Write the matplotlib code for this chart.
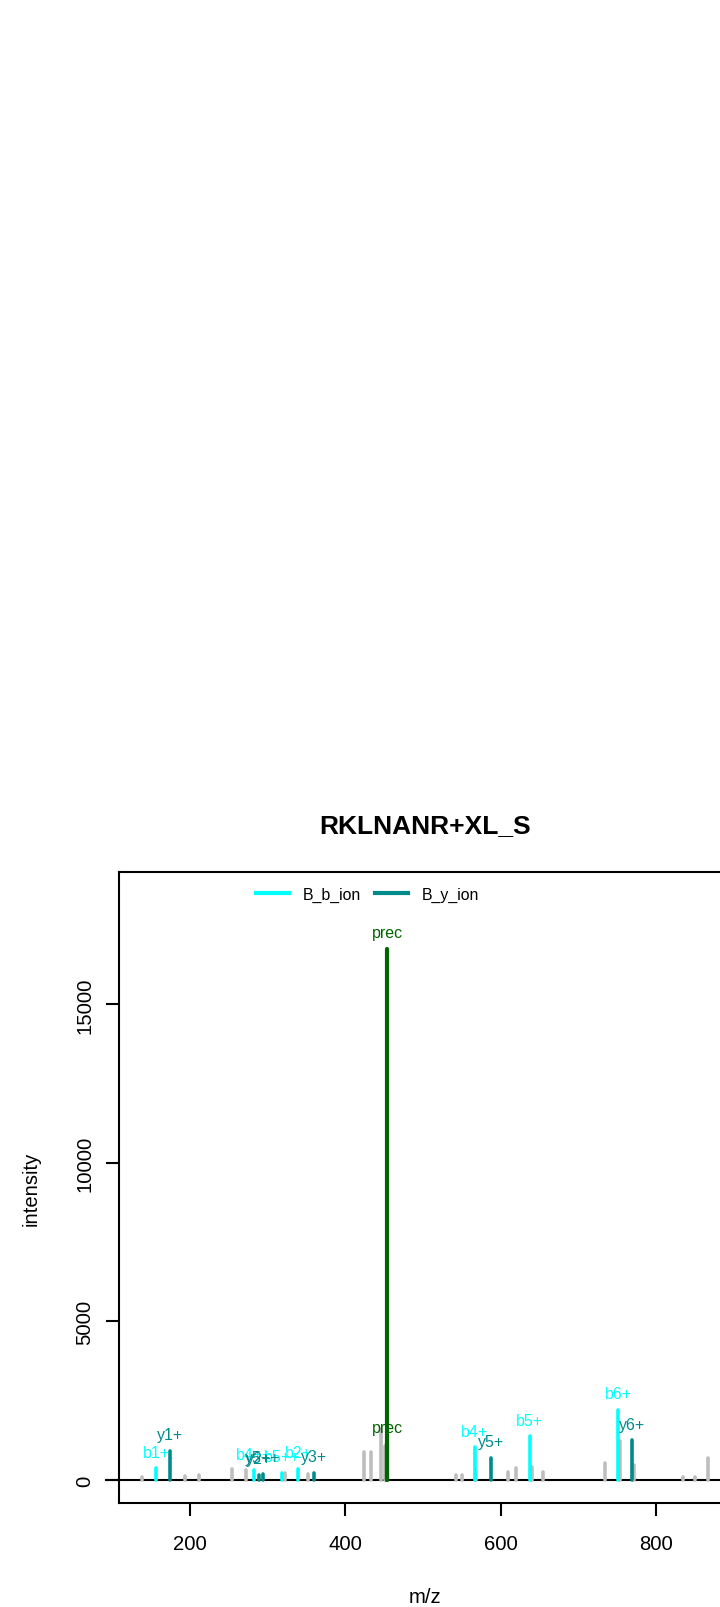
import matplotlib

matplotlib.use("Agg")
import matplotlib.pyplot as plt
from matplotlib.lines import Line2D

plt.rcParams["font.family"] = ["Liberation Sans", "DejaVu Sans"]

title = "RKLNANR+XL_S"

# unmatched peaks of the spectrum (grey)
grey_mz = [138.8, 194.7, 211.9, 254.8, 272.0, 322.7, 352.8, 423.7, 433.2,
           446.1, 451.6, 542.8, 549.6, 568.5, 609.3, 620.1, 639.5, 654.4,
           734.4, 753.5, 771.5, 834.5, 850.0, 866.4]
grey_int = [105, 116, 167, 336, 325, 211, 200, 871, 871,
            1606, 1081, 170, 170, 290, 243, 369, 400, 243,
            545, 1240, 470, 90, 100, 693]

# b ions
b_mz = [157.3, 283.2, 318.9, 339.5, 566.4, 637.3, 751.1]
b_int = [368, 305, 231, 346, 1030, 1376, 2214]
b_lab = ["b1+", "b4++", "b5++", "b2+", "b4+", "b5+", "b6+"]

# y ions
y_mz = [174.9, 288.8, 294.4, 359.7, 587.0, 769.2]
y_int = [923, 157, 189, 231, 693, 1250]
y_lab = ["y1+", "y2+", "y5++", "y3+", "y5+", "y6+"]

# precursor
p_mz = [453.8, 453.8]
p_int = [16756, 1150]
p_lab = ["prec", "prec"]

c_grey = "#bebebe"
c_b = "#00ffff"
c_y = "#008b8b"
c_p = "#006400"

fig = plt.figure(figsize=(7.2, 16.08), dpi=100)
ax = fig.add_axes([0.1657, 0.0645, 0.8492, 0.3924])

all_mz = grey_mz + b_mz + y_mz + p_mz
lo, hi = min(all_mz), max(all_mz)
r = hi - lo
ax.set_xlim(lo - 0.04 * r, hi + 0.04 * r)
ymax = 1.1 * max(p_int)
ax.set_ylim(-0.04 * ymax, 1.04 * ymax)

lw = 2.6
ax.vlines(grey_mz, 0, grey_int, color=c_grey, lw=lw, capstyle="round")
ax.vlines(b_mz, 0, b_int, color=c_b, lw=lw, capstyle="round")
ax.vlines(y_mz, 0, y_int, color=c_y, lw=lw, capstyle="round")
ax.vlines(p_mz, 0, p_int, color=c_p, lw=3.0, capstyle="round")
ax.plot([lo - 46, hi + 200], [0, 0], color="black", lw=1.5, clip_on=False,
        zorder=1)

for mzs, ints, labs, col in [(b_mz, b_int, b_lab, c_b),
                             (y_mz, y_int, y_lab, c_y),
                             (p_mz, p_int, p_lab, c_p)]:
    for m, i, t in zip(mzs, ints, labs):
        ax.annotate(t, (m, i), xytext=(0, 11.5), textcoords="offset points",
                    ha="center", va="center", color=col, fontsize=11.5)

ax.set_xticks([200, 400, 600, 800])
ax.set_yticks([0, 5000, 10000, 15000])
ax.tick_params(axis="both", length=9.4, width=1.5, labelsize=14.6)
ax.tick_params(axis="x", pad=13)
ax.tick_params(axis="y", pad=8.6)
for lab in ax.get_yticklabels():
    lab.set_rotation(90)
    lab.set_va("center")
for s in ax.spines.values():
    s.set_linewidth(1.5)

ax.set_xlabel("m/z", fontsize=14.6, labelpad=24)
ax.set_ylabel("intensity", fontsize=14.6, labelpad=25)
ax.set_title(title, fontsize=19, fontweight="bold", pad=29)

handles = [Line2D([], [], color=c_b, lw=3), Line2D([], [], color=c_y, lw=3)]
ax.legend(handles, ["B_b_ion", "B_y_ion"], ncol=2, frameon=False,
          loc="center", bbox_to_anchor=(0.406, 0.9656), fontsize=11.4,
          handlelength=2.1, handletextpad=0.88, columnspacing=0.88)

fig.savefig("out.png", dpi=100)
